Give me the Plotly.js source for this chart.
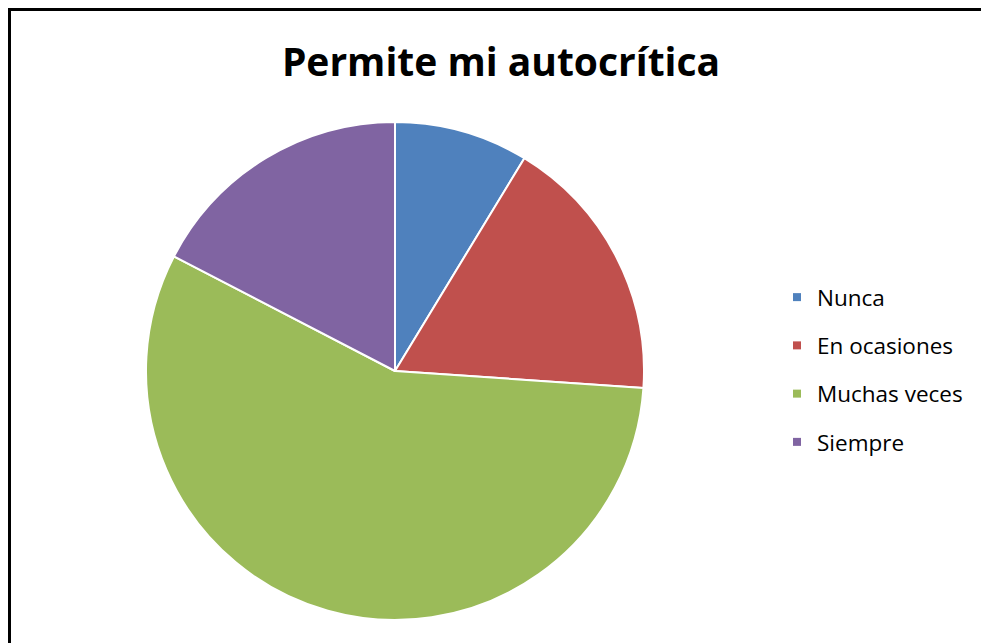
<!DOCTYPE html>
<html>
<head>
<meta charset="utf-8">
<script src="https://cdn.plot.ly/plotly-3.0.1.min.js"></script>
<style>
  html, body { margin: 0; padding: 0; background: #fff; overflow: hidden; }
  #frame { position: absolute; left: 8px; top: 8px; width: 1000px; height: 700px; border: 3px solid #000; box-sizing: border-box; }
  #chart { position: absolute; left: 0; top: 0; width: 981px; height: 643px; }
</style>
</head>
<body>
<div id="frame"></div>
<div id="chart"></div>
<script>
const categories = ["Nunca", "En ocasiones", "Muchas veces", "Siempre"];
const counts = [2, 4, 13, 4];
const colors = ["#4F81BD", "#C0504D", "#9BBB59", "#8064A2"];
const chartTitle = "Permite mi autocrítica";

const W = 981, H = 643;
const cx = 395, cy = 371, r = 249;

const pie = {
  type: "pie",
  labels: categories,
  values: counts,
  sort: false,
  direction: "clockwise",
  rotation: 0,
  textinfo: "none",
  showlegend: false,
  marker: { colors: colors, line: { color: "#ffffff", width: 2 } },
  domain: { x: [(cx - r) / W, (cx + r) / W], y: [1 - (cy + r) / H, 1 - (cy - r) / H] }
};

const legendTraces = categories.map((c, i) => ({
  type: "scatter",
  mode: "markers",
  x: [null], y: [null],
  name: c,
  legendgroup: "g" + i,
  marker: { symbol: "square", size: 8, color: colors[i] },
  hoverinfo: "skip"
}));

const font = "'Open Sans', 'Noto Sans', sans-serif";

const layout = {
  width: W, height: H,
  margin: { l: 0, r: 0, t: 0, b: 0 },
  paper_bgcolor: "rgba(0,0,0,0)",
  plot_bgcolor: "rgba(0,0,0,0)",
  font: { family: font, color: "#000" },
  title: {
    text: "<b>" + chartTitle + "</b>",
    font: { size: 39, family: font, color: "#000" },
    x: 501 / W, xanchor: "center", xref: "container",
    y: 1 - 62 / H, yanchor: "middle", yref: "container"
  },
  xaxis: { visible: false },
  yaxis: { visible: false },
  showlegend: true,
  legend: {
    x: 777 / W, xanchor: "left",
    y: 1 - 276 / H, yanchor: "top",
    font: { size: 22.5, color: "#000", family: font },
    tracegroupgap: 16,
    bgcolor: "rgba(0,0,0,0)"
  }
};

Plotly.newPlot("chart", [pie].concat(legendTraces), layout, { displayModeBar: false, staticPlot: true });
</script>
</body>
</html>
